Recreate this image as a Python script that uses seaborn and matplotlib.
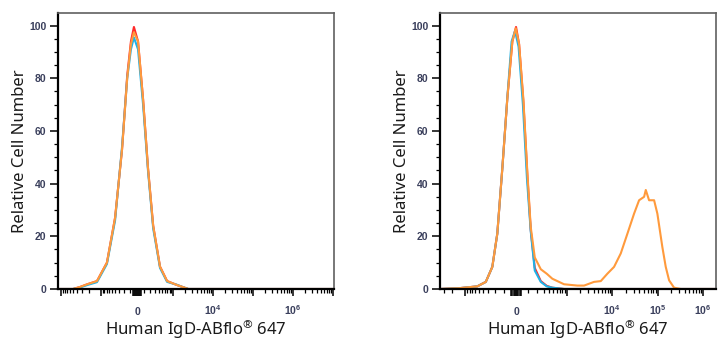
import numpy as np
import pandas as pd
import matplotlib
matplotlib.use("Agg")
import matplotlib.pyplot as plt
import seaborn as sns
from matplotlib.ticker import FixedLocator, FixedFormatter

# ---------------- data (fluorescence intensity, relative cell number) -------------
left_x = [-11900, -5000, -3300, -2200, -1250, -690, -410, -245, -150, -90, -45,
          15, 90, 170, 270, 440, 690, 1250, 1700, 2400, 10600000]
left_red = [0, 0, 0.8, 1.8, 3, 10, 27, 53, 81, 94, 99.5, 94, 72, 46, 24, 8.5, 3, 1.5, 0.8, 0, 0]
left_orange = [0, 0, 0.8, 1.8, 3, 10, 27, 53, 80, 93, 97.5, 94, 72, 46, 24, 8.5, 3, 1.5, 0.8, 0, 0]
left_cyan = [0, 0, 0.6, 1.5, 2.6, 9.5, 26, 54, 80, 91, 95.5, 91, 70, 45, 23, 8, 2.7, 1.6, 0.8, 0, 0]

right_orange_x = [-3630, -1384, -540, -341, -234, -170, -116, -70, -29, -2, 24, 59, 94, 126,
                  170, 249, 350, 474, 873, 1720, 2420, 4010, 5640, 7870, 11050, 15500,
                  21700, 30400, 39200, 50500, 55000, 65000, 83800, 98900, 127000, 151000,
                  179000, 230000, 323000, 1920000]
right_orange = [0, 0.3, 1, 2.7, 8.4, 21, 46, 72.7, 94, 99, 93, 72, 44, 23.6,
                12, 7.5, 5.8, 3.9, 1.8, 1.3, 1.3, 2.7, 3, 5.8, 8.4, 13.5,
                21, 28.6, 33.7, 35, 37.6, 33.7, 33.7, 28.6, 16, 8.4,
                3.3, 0.5, 0, 0]
right_red_x = [-3630, -1384, -540, -341, -234, -170, -116, -70, -29, 0, 24, 59, 94, 126,
               170, 249, 350, 474, 873, 1920000]
right_red = [0, 0.3, 1, 2.7, 8.4, 21, 46, 72.7, 94, 99.5, 93, 71, 43, 22.5,
             8, 3, 1.2, 0.5, 0, 0]
right_cyan_x = [-3630, -1384, -540, -341, -234, -170, -116, -70, -35, -8, 20, 55, 90, 126,
                170, 249, 350, 474, 873, 1920000]
right_cyan = [0, 0.3, 1, 2.7, 8.4, 21, 46, 73, 94, 98, 92, 70, 42, 22,
              7, 2.7, 1, 0.5, 0, 0]

left_tick_labels = {0: "0", 1e4: r"10$^4$", 1e6: r"10$^6$"}
right_tick_labels = {0: "0", 1e4: r"10$^4$", 1e5: r"10$^5$", 1e6: r"10$^6$"}

RED = "#ff2a2a"
ORANGE = "#ff9a3c"
CYAN = "#1fb2e6"
TICKCOL = "#3a3f5c"

sns.set_theme(style="ticks")
plt.rcParams["font.family"] = ["DejaVu Sans"]
plt.rcParams["mathtext.default"] = "regular"

fig = plt.figure(figsize=(7.28, 3.5), dpi=100)
axL = fig.add_axes([58 / 728, 61 / 350, 276 / 728, 276 / 350])
axR = fig.add_axes([440 / 728, 61 / 350, 276 / 728, 276 / 350])


def draw(ax, series, a, xlim, labels):
    for xs, ys, col in series:
        df = pd.DataFrame({"x": xs, "y": ys})
        sns.lineplot(data=df, x="x", y="y", ax=ax, color=col, lw=1.5,
                     estimator=None, sort=False)
    ax.set_xscale("asinh", linear_width=a)
    ax.set_xlim(*xlim)
    ax.set_ylim(0, 104.8)

    # x ticks: logicle-like
    majors = [v for v in [-1e4, -1e3, 0, 1e3, 1e4, 1e5, 1e6, 1e7] if xlim[0] <= v <= xlim[1]]
    cluster = list(np.linspace(-0.24 * a, 0.24 * a, 9))
    allmaj = sorted(set(majors + cluster))
    labs = [labels.get(v, "") for v in allmaj]
    minors = []
    for k in range(2, 7):
        for m in range(1 if k == 2 else 2, 10):
            for s in (-1, 1):
                v = s * m * 10 ** k
                if xlim[0] <= v <= xlim[1]:
                    minors.append(v)
    ax.xaxis.set_major_locator(FixedLocator(allmaj))
    ax.xaxis.set_major_formatter(FixedFormatter(labs))
    ax.xaxis.set_minor_locator(FixedLocator(minors))

    ax.set_yticks([0, 20, 40, 60, 80, 100])
    ax.set_yticks(np.arange(5, 105, 5), minor=True)

    ax.tick_params(axis="both", which="both", bottom=True, left=True, top=False, right=False)
    ax.tick_params(axis="both", which="major", direction="out", length=5.5, width=1.1,
                   color="black", labelsize=7.5, labelcolor=TICKCOL)
    ax.tick_params(axis="both", which="minor", direction="out", length=3, width=0.9,
                   color="black")
    ax.tick_params(axis="x", which="major", pad=14, length=5)
    ax.tick_params(axis="x", which="minor", length=3)
    ax.tick_params(axis="y", which="major", pad=3)
    for lab in ax.get_xticklabels() + ax.get_yticklabels():
        lab.set_fontfamily("Liberation Sans")
        lab.set_fontweight("bold")
    for lab in ax.get_xticklabels():
        lab.set_verticalalignment("baseline")

    for s in ("left", "bottom"):
        ax.spines[s].set_color("black")
        ax.spines[s].set_linewidth(1.6)
    for s in ("top", "right"):
        ax.spines[s].set_visible(True)
        ax.spines[s].set_color("#606060")
        ax.spines[s].set_linewidth(1.2)

    ax.set_xlabel("Human IgD-ABflo$^{®}$ 647", fontsize=12, family="Noto Sans", color="#1a1a1a")
    ax.set_ylabel("Relative Cell Number", fontsize=12, family="Noto Sans", color="#1a1a1a")
    ax.xaxis.set_label_coords(0.5, -0.105)
    ax.yaxis.set_label_coords(-0.108, 0.5)
    ax.grid(False)


draw(axL, [(left_x, left_red, RED), (left_x, left_cyan, CYAN), (left_x, left_orange, ORANGE)],
     252, (-11900, 1.06e7), left_tick_labels)
draw(axR, [(right_red_x, right_red, RED), (right_cyan_x, right_cyan, CYAN),
           (right_orange_x, right_orange, ORANGE)],
     155, (-3630, 1.92e6), right_tick_labels)

fig.savefig("out.png", dpi=100)
